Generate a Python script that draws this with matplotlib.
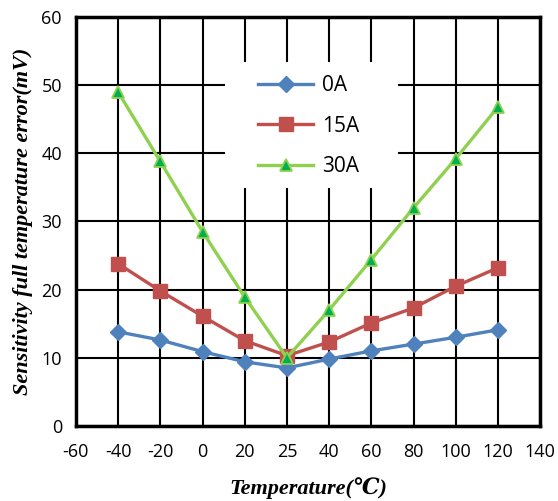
import matplotlib
matplotlib.use("Agg")
import matplotlib.pyplot as plt
from matplotlib.patches import Rectangle

tick_labels = ["-60", "-40", "-20", "0", "20", "25", "40", "60", "80", "100", "120", "140"]
temps = ["-40", "-20", "0", "20", "25", "40", "60", "80", "100", "120"]
s0A = [13.8, 12.6, 10.9, 9.4, 8.5, 9.8, 11.0, 12.0, 13.0, 14.1]
s15A = [23.8, 19.8, 16.1, 12.5, 10.3, 12.3, 15.1, 17.3, 20.5, 23.2]
s30A = [49.0, 38.8, 28.5, 18.9, 10.0, 17.0, 24.4, 32.0, 39.2, 46.8]

fig = plt.figure(figsize=(5.58, 5.01), dpi=100)
ax = fig.add_axes([0.136, 0.150, 0.832, 0.816])

xpos = [tick_labels.index(t) for t in temps]
ax.plot(xpos, s0A, color="#4F81BD", lw=2.4, marker="D", ms=8, mfc="#4F81BD", mec="#4F81BD", label="0A", zorder=3)
ax.plot(xpos, s15A, color="#C0504D", lw=2.4, marker="s", ms=10, mfc="#C0504D", mec="#C0504D", label="15A", zorder=3)
ax.plot(xpos, s30A, color="#8FD14F", lw=2.4, marker="^", ms=9, mfc="#00B050", mec="#8FD14F", mew=1.3, label="30A", zorder=3)

ax.set_xlim(0, len(tick_labels) - 1)
ax.set_ylim(0, 60)
ax.set_xticks(range(len(tick_labels)))
ax.set_xticklabels(tick_labels)
ax.set_yticks(range(0, 61, 10))
ax.grid(True, color="black", lw=1.5)
ax.set_axisbelow(True)
for sp in ax.spines.values():
    sp.set_linewidth(2.5)
ax.tick_params(axis="x", length=0, labelsize=13, pad=12)
ax.tick_params(axis="y", length=0, labelsize=13, pad=10)
for lab in ax.get_xticklabels() + ax.get_yticklabels():
    lab.set_fontfamily("Open Sans")

serif = ["Liberation Serif", "DejaVu Serif", "Noto Sans CJK SC"]
ax.set_xlabel("Temperature(\u2103)", fontfamily=serif, fontstyle="italic",
              fontweight="bold", fontsize=16, labelpad=12)
ax.set_ylabel("Sensitivity full temperature error(mV)", fontfamily=serif,
              fontstyle="italic", fontweight="bold", fontsize=16, labelpad=6)

# white legend background box
ax.add_patch(Rectangle((0.321, 0.582), 0.373, 0.308, transform=ax.transAxes,
                       facecolor="white", edgecolor="none", zorder=1))

leg = ax.legend(loc="center left", bbox_to_anchor=(0.370, 0.733), frameon=False,
                prop={"family": "Open Sans", "size": 15},
                handlelength=2.64, labelspacing=0.95, borderpad=0.0, handletextpad=0.43)

fig.savefig("out.png", dpi=100)
